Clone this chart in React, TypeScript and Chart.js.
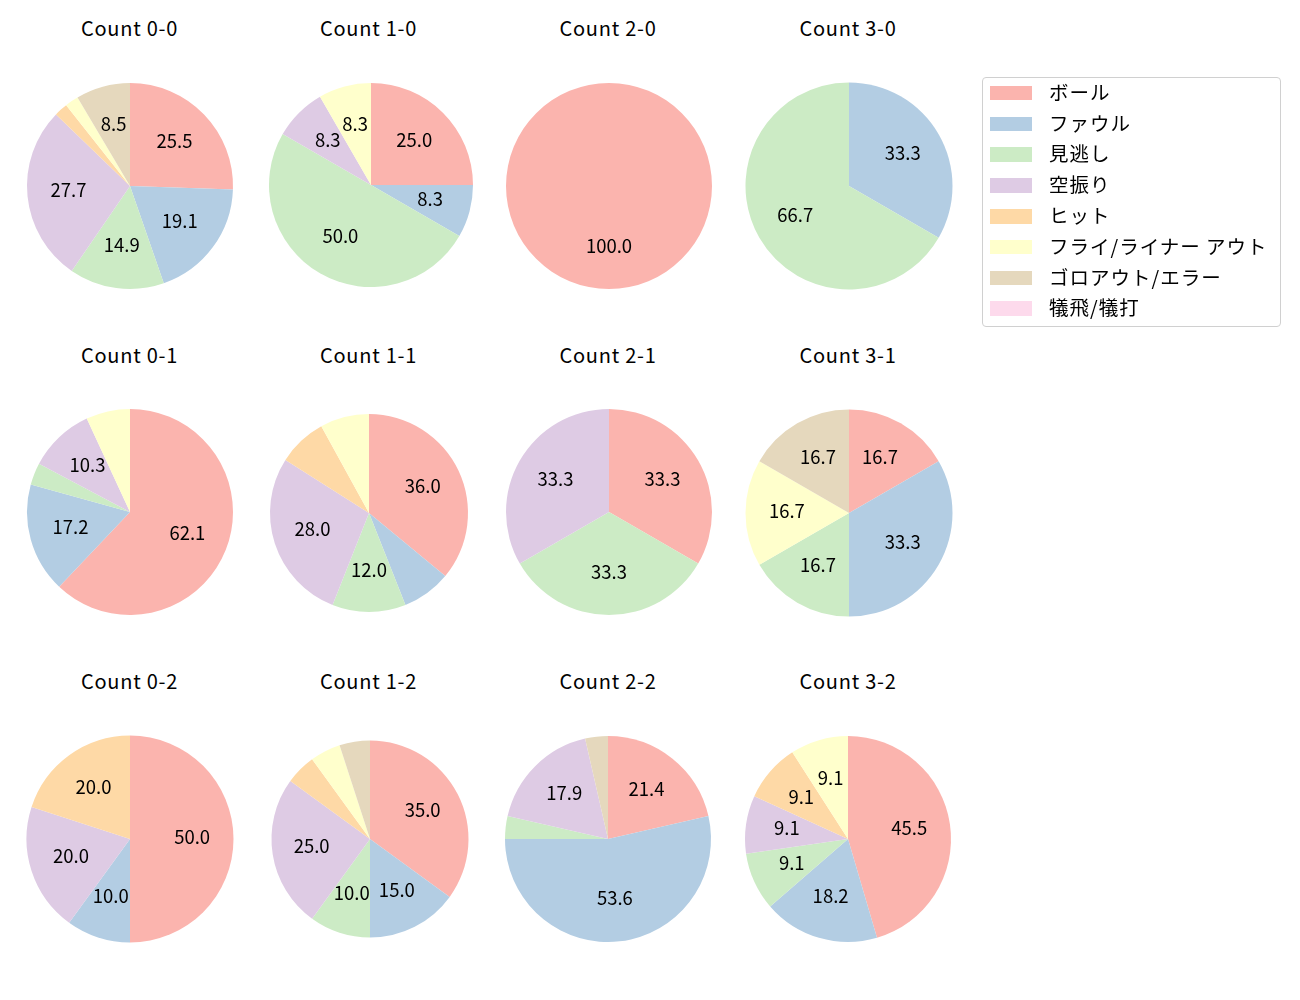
import React, { useEffect, useRef } from "react";
import { Chart, registerables } from "chart.js";

Chart.register(...registerables);

// ---- data ----
const categories = [
  "ボール",
  "ファウル",
  "見逃し",
  "空振り",
  "ヒット",
  "フライ/ライナー アウト",
  "ゴロアウト/エラー",
  "犠飛/犠打",
];
const colors = ["#fbb4ae", "#b3cde3", "#ccebc5", "#decbe4", "#fed9a6", "#ffffcc", "#e5d8bd", "#fddaec"];

const titles = [
  "Count 0-0", "Count 1-0", "Count 2-0", "Count 3-0",
  "Count 0-1", "Count 1-1", "Count 2-1", "Count 3-1",
  "Count 0-2", "Count 1-2", "Count 2-2", "Count 3-2",
];

const count00 = [12, 9, 7, 13, 1, 1, 4, 0];
const count10 = [3, 1, 6, 1, 0, 1, 0, 0];
const count20 = [1, 0, 0, 0, 0, 0, 0, 0];
const count30 = [0, 1, 2, 0, 0, 0, 0, 0];
const count01 = [18, 5, 1, 3, 0, 2, 0, 0];
const count11 = [9, 2, 3, 7, 2, 2, 0, 0];
const count21 = [1, 0, 1, 1, 0, 0, 0, 0];
const count31 = [1, 2, 1, 0, 0, 1, 1, 0];
const count02 = [5, 1, 0, 2, 2, 0, 0, 0];
const count12 = [7, 3, 2, 5, 1, 1, 1, 0];
const count22 = [6, 15, 1, 5, 0, 0, 1, 0];
const count32 = [5, 2, 1, 1, 1, 1, 0, 0];

const seriesList = [
  count00, count10, count20, count30,
  count01, count11, count21, count31,
  count02, count12, count22, count32,
];

// ---- layout (pixels) ----
const pieCenterX = [
  130, 371, 609, 848.5,
  129.5, 369, 609, 849,
  130, 370, 608, 848,
];
const pieCenterY = [
  185.5, 184.5, 186, 186,
  512, 512.5, 512, 512.5,
  838.5, 838.7, 838.5, 838.5,
];
const pieRadius = [
  103, 102, 103, 103.5,
  103, 99, 103, 103.5,
  103.5, 98.5, 103, 103,
];
const titleCenterX = [129.5, 368.5, 608, 848];
const titleCenterY = [29, 356, 682.5];
const CANVAS = 260;
const FONT = "'Noto Sans CJK JP', 'Noto Sans', sans-serif";

const pctLabels = {
  id: "pctLabels",
  afterDatasetsDraw(chart: any) {
    const ctx = chart.ctx;
    const meta = chart.getDatasetMeta(0);
    const data = chart.data.datasets[0].data as number[];
    const total = data.reduce((a: number, b: number) => a + b, 0);
    ctx.save();
    ctx.font = `18.5px ${FONT}`;
    ctx.fillStyle = "#000000";
    ctx.textAlign = "center";
    ctx.textBaseline = "middle";
    meta.data.forEach((arc: any, i: number) => {
      const pct = (data[i] / total) * 100;
      if (pct <= 8) return;
      const p = arc.getProps(["x", "y", "startAngle", "endAngle", "outerRadius"], true);
      const mid = (p.startAngle + p.endAngle) / 2;
      const r = p.outerRadius * 0.6;
      ctx.fillText(pct.toFixed(1), p.x + Math.cos(mid) * r, p.y + Math.sin(mid) * r - 2);
    });
    ctx.restore();
  },
};

function PieChart({ index }: { index: number }) {
  const ref = useRef<HTMLCanvasElement | null>(null);
  useEffect(() => {
    if (!ref.current) return;
    const chart = new Chart(ref.current, {
      type: "pie",
      data: {
        labels: categories,
        datasets: [
          {
            data: seriesList[index],
            backgroundColor: colors,
            borderWidth: 0,
            hoverOffset: 0,
          },
        ],
      },
      options: {
        animation: false,
        responsive: false,
        maintainAspectRatio: false,
        devicePixelRatio: 1,
        events: [],
        radius: pieRadius[index],
        layout: { padding: 0 },
        plugins: {
          legend: { display: false },
          tooltip: { enabled: false },
          title: { display: false },
        },
      } as any,
      plugins: [pctLabels],
    });
    return () => chart.destroy();
  }, [index]);
  return (
    <canvas
      ref={ref}
      width={CANVAS}
      height={CANVAS}
      style={{
        position: "absolute",
        left: pieCenterX[index] - CANVAS / 2,
        top: pieCenterY[index] - CANVAS / 2,
        width: CANVAS,
        height: CANVAS,
      }}
    />
  );
}

export default function App() {
  return (
    <div
      style={{
        position: "absolute",
        left: 0,
        top: 0,
        width: 1300,
        height: 1000,
        background: "#ffffff",
        fontFamily: FONT,
        overflow: "hidden",
      }}
    >
      {titles.map((t, i) => (
        <div
          key={"t" + i}
          style={{
            position: "absolute",
            left: titleCenterX[i % 4] - 100,
            top: titleCenterY[Math.floor(i / 4)] - 16.5,
            width: 200,
            height: 30,
            lineHeight: "30px",
            textAlign: "center",
            fontSize: 20,
            letterSpacing: "0.75px",
            color: "#000",
          }}
        >
          {t}
        </div>
      ))}
      {titles.map((_, i) => (
        <PieChart key={"p" + i} index={i} />
      ))}
      <div
        style={{
          position: "absolute",
          left: 982,
          top: 77,
          width: 297,
          height: 248,
          border: "1px solid #d0d0d0",
          borderRadius: 4,
          background: "rgba(255,255,255,0.8)",
        }}
      >
        {categories.map((c, i) => (
          <div
            key={"l" + i}
            style={{
              position: "absolute",
              left: 0,
              top: 15.3 + i * 30.8 - 15,
              height: 30,
              width: 297,
            }}
          >
            <div
              style={{
                position: "absolute",
                left: 7,
                top: 7.5,
                width: 42,
                height: 14.5,
                background: colors[i],
              }}
            />
            <div
              style={{
                position: "absolute",
                left: 66,
                top: -1.5,
                height: 30,
                lineHeight: "30px",
                fontSize: 19.5,
                letterSpacing: "1px",
                color: "#000",
                whiteSpace: "nowrap",
              }}
            >
              {c}
            </div>
          </div>
        ))}
      </div>
    </div>
  );
}
